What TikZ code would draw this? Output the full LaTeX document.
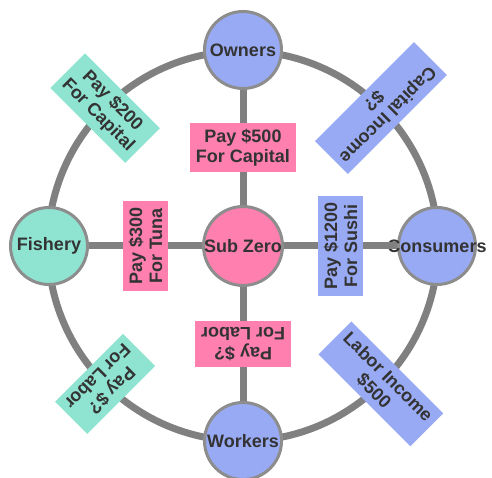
\documentclass[tikz,border=0pt]{standalone}
\usepackage{fontspec}
\setmainfont{Liberation Sans}
\definecolor{subpink}{HTML}{FF7FAF}
\definecolor{ownblue}{HTML}{99AAF4}
\definecolor{fishteal}{HTML}{8FE3D1}
\definecolor{ringgray}{HTML}{808080}
\definecolor{inkgray}{HTML}{333333}

\begin{document}
\begin{tikzpicture}[x=1pt, y=1pt,
        font=\fontsize{18}{20}\selectfont\bfseries,
        ring/.style={draw=ringgray, line width=7pt},
        party/.style={circle, draw=ringgray!90!white, line width=3pt, minimum size=77pt, inner sep=0pt, text=inkgray},
        paybox/.style={align=center, inner sep=6pt, text=inkgray}]
        \useasboundingbox (0, 0) rectangle (492, 478);
        \coordinate (hub) at (243, 232);
        \draw [ring] (hub) circle [radius=195pt];

        \node [party, fill=subpink] (subzero) at (hub) {Sub Zero};
        \node [party, fill=ownblue] (owners) at (243, 428) {Owners};
        \node [party, fill=ownblue] (workers) at (243, 37) {Workers};
        \node [party, fill=fishteal] (fishery) at (49, 232) {Fishery};
        \node [party, fill=ownblue] (consumers) at (437, 232) {\makebox[0pt]{Consumers}};

        % spokes with their payments
        \draw [ring] (subzero) -- (owners) node [paybox, fill=subpink, midway] {Pay \$500\\For Capital};
        \draw [ring] (subzero) -- (workers) node [paybox, fill=subpink, midway, rotate=180] {Pay \$?\\For Labor};
        \draw [ring] (subzero) -- (fishery) node [paybox, fill=subpink, midway, rotate=90] {Pay \$300\\For Tuna};
        \draw [ring] (subzero) -- (consumers) node [paybox, fill=ownblue, midway, rotate=90] {Pay \$1200\\For Sushi};

        % payments on the ring
        \node [paybox, fill=fishteal, rotate=-45] (fishcap) at ([shift={(135:195pt)}]hub) {Pay \$200\\For Capital};
        \node [paybox, fill=ownblue, rotate=225] (capinc) at ([shift={(45:195pt)}]hub) {Capital Income\\\$?};
        \node [paybox, fill=fishteal, rotate=225] (fishlab) at ([shift={(225:195pt)}]hub) {Pay \$?\\For Labor};
        \node [paybox, fill=ownblue, rotate=-45] (labinc) at ([shift={(-45:195pt)}]hub) {Labor Income\\\$500};
    \end{tikzpicture}
\end{document}
